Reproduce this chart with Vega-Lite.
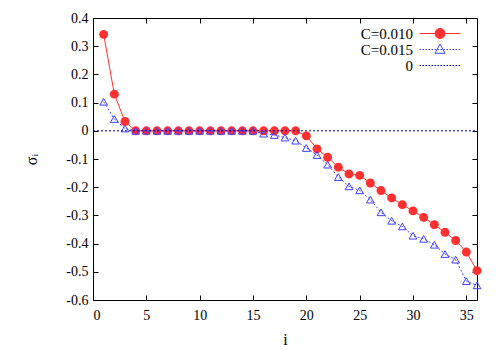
{
  "$schema": "https://vega.github.io/schema/vega-lite/v6.json",
  "width": 384,
  "height": 282,
  "autosize": {"type": "none"},
  "padding": {"left": 93, "top": 18, "right": 23, "bottom": 50},
  "config": {
    "font": "Liberation Serif",
    "view": {"stroke": "black", "strokeWidth": 1},
    "axis": {
      "domain": false,
      "grid": false,
      "tickColor": "black",
      "tickSize": -5,
      "labelColor": "black",
      "labelFontSize": 14,
      "titleFontWeight": "normal",
      "titleFontSize": 16,
      "titleColor": "black"
    }
  },
  "datasets": {
    "series": [
      {"i": 1, "s": "C=0.010", "v": 0.342},
      {"i": 2, "s": "C=0.010", "v": 0.130},
      {"i": 3, "s": "C=0.010", "v": 0.033},
      {"i": 4, "s": "C=0.010", "v": 0},
      {"i": 5, "s": "C=0.010", "v": 0},
      {"i": 6, "s": "C=0.010", "v": 0},
      {"i": 7, "s": "C=0.010", "v": 0},
      {"i": 8, "s": "C=0.010", "v": 0},
      {"i": 9, "s": "C=0.010", "v": 0},
      {"i": 10, "s": "C=0.010", "v": 0},
      {"i": 11, "s": "C=0.010", "v": 0},
      {"i": 12, "s": "C=0.010", "v": 0},
      {"i": 13, "s": "C=0.010", "v": 0},
      {"i": 14, "s": "C=0.010", "v": 0},
      {"i": 15, "s": "C=0.010", "v": 0},
      {"i": 16, "s": "C=0.010", "v": 0},
      {"i": 17, "s": "C=0.010", "v": 0},
      {"i": 18, "s": "C=0.010", "v": 0},
      {"i": 19, "s": "C=0.010", "v": 0},
      {"i": 20, "s": "C=0.010", "v": -0.018},
      {"i": 21, "s": "C=0.010", "v": -0.064},
      {"i": 22, "s": "C=0.010", "v": -0.094},
      {"i": 23, "s": "C=0.010", "v": -0.129},
      {"i": 24, "s": "C=0.010", "v": -0.153},
      {"i": 25, "s": "C=0.010", "v": -0.158},
      {"i": 26, "s": "C=0.010", "v": -0.185},
      {"i": 27, "s": "C=0.010", "v": -0.212},
      {"i": 28, "s": "C=0.010", "v": -0.238},
      {"i": 29, "s": "C=0.010", "v": -0.262},
      {"i": 30, "s": "C=0.010", "v": -0.284},
      {"i": 31, "s": "C=0.010", "v": -0.307},
      {"i": 32, "s": "C=0.010", "v": -0.333},
      {"i": 33, "s": "C=0.010", "v": -0.360},
      {"i": 34, "s": "C=0.010", "v": -0.389},
      {"i": 35, "s": "C=0.010", "v": -0.430},
      {"i": 36, "s": "C=0.010", "v": -0.496},
      {"i": 1, "s": "C=0.015", "v": 0.103},
      {"i": 2, "s": "C=0.015", "v": 0.042},
      {"i": 3, "s": "C=0.015", "v": 0.008},
      {"i": 4, "s": "C=0.015", "v": 0},
      {"i": 5, "s": "C=0.015", "v": 0},
      {"i": 6, "s": "C=0.015", "v": 0},
      {"i": 7, "s": "C=0.015", "v": 0},
      {"i": 8, "s": "C=0.015", "v": 0},
      {"i": 9, "s": "C=0.015", "v": 0},
      {"i": 10, "s": "C=0.015", "v": 0},
      {"i": 11, "s": "C=0.015", "v": 0},
      {"i": 12, "s": "C=0.015", "v": 0},
      {"i": 13, "s": "C=0.015", "v": 0},
      {"i": 14, "s": "C=0.015", "v": 0},
      {"i": 15, "s": "C=0.015", "v": 0},
      {"i": 16, "s": "C=0.015", "v": -0.010},
      {"i": 17, "s": "C=0.015", "v": -0.015},
      {"i": 18, "s": "C=0.015", "v": -0.024},
      {"i": 19, "s": "C=0.015", "v": -0.035},
      {"i": 20, "s": "C=0.015", "v": -0.061},
      {"i": 21, "s": "C=0.015", "v": -0.086},
      {"i": 22, "s": "C=0.015", "v": -0.120},
      {"i": 23, "s": "C=0.015", "v": -0.164},
      {"i": 24, "s": "C=0.015", "v": -0.197},
      {"i": 25, "s": "C=0.015", "v": -0.211},
      {"i": 26, "s": "C=0.015", "v": -0.244},
      {"i": 27, "s": "C=0.015", "v": -0.289},
      {"i": 28, "s": "C=0.015", "v": -0.319},
      {"i": 29, "s": "C=0.015", "v": -0.339},
      {"i": 30, "s": "C=0.015", "v": -0.372},
      {"i": 31, "s": "C=0.015", "v": -0.383},
      {"i": 32, "s": "C=0.015", "v": -0.404},
      {"i": 33, "s": "C=0.015", "v": -0.437},
      {"i": 34, "s": "C=0.015", "v": -0.457},
      {"i": 35, "s": "C=0.015", "v": -0.533},
      {"i": 36, "s": "C=0.015", "v": -0.548}
    ],
    "zero": [
      {"i": 0, "s": "0", "v": 0},
      {"i": 36, "s": "0", "v": 0}
    ]
  },
  "resolve": {"axis": {"x": "independent", "y": "independent"}},
  "layer": [
    {
      "data": {"name": "series"},
      "transform": [{"filter": "datum.s === 'C=0.010'"}],
      "mark": {"type": "line", "strokeWidth": 1},
      "encoding": {
        "x": {"field": "i", "type": "quantitative", "scale": {"domain": [0, 36], "nice": false, "zero": false},
              "axis": {"orient": "bottom", "values": [0, 5, 10, 15, 20, 25, 30, 35], "title": "i", "titlePadding": 9, "labelPadding": 13,
                       "labelFont": "Liberation Serif", "titleFont": "Liberation Serif"}},
        "y": {"field": "v", "type": "quantitative", "scale": {"domain": [-0.6, 0.4], "nice": false, "zero": false},
              "axis": {"orient": "left", "values": [-0.6, -0.5, -0.4, -0.3, -0.2, -0.1, 0, 0.1, 0.2, 0.3, 0.4],
                       "labelExpr": "datum.value == 0 ? '0' : (datum.value < 0 ? '-' : '') + format(abs(datum.value), '.1f')",
                       "title": "σᵢ", "titlePadding": 26, "labelPadding": 10,
                       "labelFont": "Liberation Serif", "titleFont": "Liberation Serif"}},
        "color": {"field": "s", "type": "nominal",
                  "scale": {"domain": ["C=0.010", "C=0.015", "0"], "range": ["#ff3030", "#4040ff", "#0000b0"]},
                  "legend": {
                    "orient": "none", "legendX": 339.5, "legendY": 8, "title": null, "padding": 0,
                    "symbolSize": 100, "labelAlign": "right", "labelOffset": -34.5,
                    "labelFont": "Liberation Serif", "labelFontSize": 15, "labelColor": "black",
                    "rowPadding": -2,
                    "encode": {"symbols": {"update": {
                      "shape": {"signal": "datum.value === 'C=0.010' ? 'M-4.1,0H4.1M-1,0A1,1 0 1,1 1,0A1,1 0 1,1 -1,0Z' : datum.value === 'C=0.015' ? 'M-4.1,0h0.3m0.3,0h0.3m0.3,0h0.3m0.3,0h0.3m0.3,0h0.3m0.3,0h0.3m0.3,0h0.3m0.3,0h0.3m0.3,0h0.3m0.3,0h0.3m0.3,0h0.3m0.3,0h0.3m0.3,0h0.3m0.3,0h0.3M0,-1.1L1.0,0.75L-1.0,0.75Z' : 'M-4.1,0h0.3m0.3,0h0.3m0.3,0h0.3m0.3,0h0.3m0.3,0h0.3m0.3,0h0.3m0.3,0h0.3m0.3,0h0.3m0.3,0h0.3m0.3,0h0.3m0.3,0h0.3m0.3,0h0.3m0.3,0h0.3m0.3,0h0.3'"},
                      "fill": {"signal": "datum.value === 'C=0.010' ? '#ff0000' : 'transparent'"},
                      "fillOpacity": {"signal": "datum.value === 'C=0.010' ? 1 : 0"},
                      "stroke": {"signal": "datum.value === 'C=0.010' ? '#ff3030' : datum.value === 'C=0.015' ? '#4040ff' : '#0000b0'"},
                      "strokeWidth": {"value": 1},
                      "opacity": {"value": 1}
                    }}}
                  }}
      }
    },
    {
      "data": {"name": "series"},
      "transform": [{"filter": "datum.s === 'C=0.010'"}],
      "mark": {"type": "point", "shape": "circle", "filled": true, "size": 80, "opacity": 1},
      "encoding": {
        "x": {"field": "i", "type": "quantitative",
              "axis": {"orient": "top", "values": [0, 5, 10, 15, 20, 25, 30, 35], "labels": false, "title": null}},
        "y": {"field": "v", "type": "quantitative",
              "axis": {"orient": "right", "values": [-0.6, -0.5, -0.4, -0.3, -0.2, -0.1, 0, 0.1, 0.2, 0.3, 0.4], "labels": false, "title": null}},
        "color": {"field": "s", "type": "nominal", "legend": null}
      }
    },
    {
      "data": {"name": "series"},
      "transform": [{"filter": "datum.s === 'C=0.015'"}],
      "mark": {"type": "line", "strokeWidth": 1, "strokeDash": [2, 2]},
      "encoding": {
        "x": {"field": "i", "type": "quantitative", "axis": null},
        "y": {"field": "v", "type": "quantitative", "axis": null},
        "color": {"field": "s", "type": "nominal", "legend": null}
      }
    },
    {
      "data": {"name": "series"},
      "transform": [{"filter": "datum.s === 'C=0.015'"}],
      "mark": {"type": "point", "shape": "triangle-up", "filled": false, "size": 60, "strokeWidth": 1, "opacity": 1},
      "encoding": {
        "x": {"field": "i", "type": "quantitative", "axis": null},
        "y": {"field": "v", "type": "quantitative", "axis": null},
        "color": {"field": "s", "type": "nominal", "legend": null}
      }
    },
    {
      "data": {"name": "zero"},
      "mark": {"type": "line", "strokeWidth": 1, "strokeDash": [2, 2]},
      "encoding": {
        "x": {"field": "i", "type": "quantitative", "axis": null},
        "y": {"field": "v", "type": "quantitative", "axis": null},
        "color": {"field": "s", "type": "nominal", "legend": null}
      }
    }
  ]
}
